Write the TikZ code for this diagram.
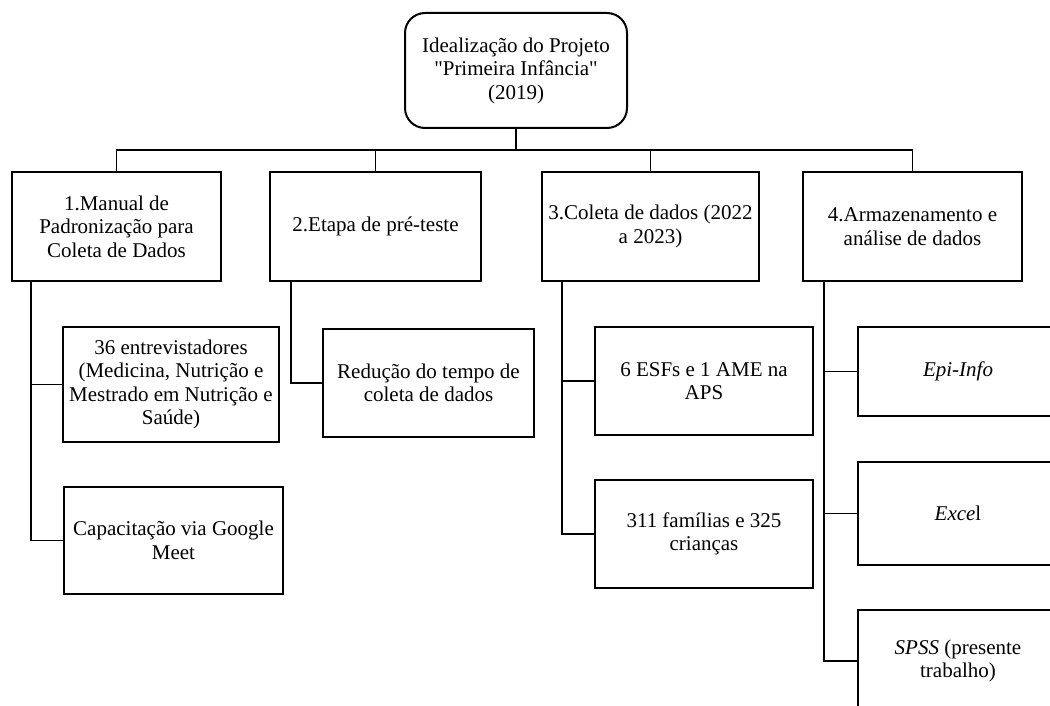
\documentclass[tikz,border=0pt]{standalone}
\usepackage{fontspec}
\setmainfont{Liberation Serif}
\begin{document}
\begin{tikzpicture}[x=1pt,y=-1pt,
  box/.style={draw=black,line width=2pt,align=center,inner sep=2pt,
    font=\fontsize{21}{23.5}\selectfont},
  conn/.style={draw=black,line width=1.6pt}]
\useasboundingbox (0,0) rectangle (1050,706);
% top
\node[box,rounded corners=20pt,minimum width=222pt,minimum height=115pt] (top) at (516,70.5)
  {Idealização do Projeto\\\textquotedbl Primeira Infância\textquotedbl\\(2019)};
% level 1
\node[box,minimum width=209pt,minimum height=109pt] (b1) at (116.5,226.5)
  {1.Manual de\\Padronização para\\Coleta de Dados};
\node[box,minimum width=211pt,minimum height=109pt] (b2) at (375.5,226.5)
  {2.Etapa de pré-teste};
\node[box,minimum width=217pt,minimum height=109pt] (b3) at (650.5,226.5)
  {3.Coleta de dados (2022\\a 2023)};
\node[box,minimum width=219pt,minimum height=109pt] (b4) at (912.5,226.5)
  {4.Armazenamento e\\análise de dados};
% level 2
\node[box,minimum width=216pt,minimum height=115pt] (c11) at (171,384.5)
  {36 entrevistadores\\(Medicina, Nutrição e\\Mestrado em Nutrição e\\Saúde)};
\node[box,minimum width=219pt,minimum height=107pt] (c12) at (173.5,540.5)
  {Capacitação via Google\\Meet};
\node[box,minimum width=211pt,minimum height=108pt] (c21) at (428.5,383)
  {Redução do tempo de\\coleta de dados};
\node[box,minimum width=218pt,minimum height=108pt] (c31) at (704,381)
  {6 ESFs e 1 AME na\\APS};
\node[box,minimum width=218pt,minimum height=108pt] (c32) at (704,534)
  {311 famílias e 325\\crianças};
\node[box,minimum width=200pt,minimum height=89pt] (c41) at (958,371.5)
  {\itshape Epi-Info};
\node[box,minimum width=200pt,minimum height=103pt] (c42) at (958,513.5)
  {\textit{Exce}l};
\node[box,minimum width=200pt,minimum height=102pt] (c43) at (958,661)
  {\textit{SPSS} (presente\\trabalho)};
% connectors
\coordinate (bus) at (516,150);
\draw[conn] (top.south) -- (bus);
\draw[conn] (b1.north) |- (bus) -| (b4.north);
\draw[conn] (b2.north) -- (b2.north |- bus);
\draw[conn] (b3.north) -- (b3.north |- bus);
\draw[conn] ([xshift=20pt]b1.south west) |- (c11.west);
\draw[conn] ([xshift=20pt]b1.south west) |- (c12.west);
\draw[conn] ([xshift=22pt]b2.south west) |- (c21.west);
\draw[conn] ([xshift=21pt]b3.south west) |- (c31.west);
\draw[conn] ([xshift=21pt]b3.south west) |- (c32.west);
\draw[conn] ([xshift=22pt]b4.south west) |- (c41.west);
\draw[conn] ([xshift=22pt]b4.south west) |- (c42.west);
\draw[conn] ([xshift=22pt]b4.south west) |- (c43.west);
\end{tikzpicture}
\end{document}
